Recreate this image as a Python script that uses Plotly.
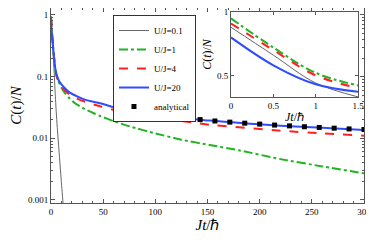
import plotly.graph_objects as go

# --- data ---
t_gray = [0, 0.5, 1, 1.5, 2, 3, 4, 5, 6, 8, 10, 12, 14]
c_gray = [0.88, 0.66, 0.44, 0.33, 0.24, 0.12, 0.055, 0.027, 0.015, 0.0053, 0.0019, 0.0007, 0.00025]

t_green = [0, 0.5, 1, 1.5, 2, 3, 4, 5, 7, 10, 13.4, 18, 23, 32, 42, 47, 60, 76, 100, 125, 152, 180, 220, 260, 300]
c_green = [0.95, 0.72, 0.52, 0.42, 0.31, 0.19, 0.13, 0.105, 0.085, 0.066, 0.054, 0.044, 0.037, 0.030, 0.025,
           0.023, 0.019, 0.0155, 0.012, 0.0095, 0.0078, 0.0064, 0.0046, 0.0035, 0.0027]

t_red = [0, 0.5, 1, 1.5, 2, 3, 4, 5, 6, 8, 10, 14, 18, 25, 33, 47, 60, 76, 100, 152, 220, 260, 300]
c_red = [0.91, 0.70, 0.50, 0.40, 0.31, 0.20, 0.14, 0.11, 0.095, 0.078, 0.070, 0.058, 0.051, 0.044, 0.039,
         0.033, 0.029, 0.0255, 0.022, 0.0166, 0.0133, 0.012, 0.011]

t_blue = [0, 0.5, 1, 1.5, 2, 3, 4, 5, 6, 8, 10, 14, 18, 25, 33, 47, 60, 76, 100, 152, 220, 260, 300]
c_blue = [0.80, 0.58, 0.43, 0.37, 0.30, 0.20, 0.14, 0.115, 0.10, 0.083, 0.075, 0.063, 0.055, 0.048, 0.042,
          0.037, 0.032, 0.027, 0.0242, 0.0194, 0.016, 0.0148, 0.0137]

t_ana = [100, 114.3, 128.6, 142.9, 157.1, 171.4, 185.7, 200, 214.3, 228.6, 242.9, 257.1, 271.4, 285.7, 300]
c_ana = [0.0240, 0.0225, 0.0212, 0.0201, 0.0191, 0.0183, 0.0176, 0.0170, 0.0164, 0.0159, 0.0154, 0.0150, 0.0146, 0.0142, 0.0139]

names = ["U/J=0.1", "U/J=1", "U/J=4", "U/J=20", "analytical"]
x_ticks = [0, 50, 100, 150, 200, 250, 300]
y_ticks = [1, 0.1, 0.01, 0.001]
y_tick_text = ["1", "0.1", "0.01", "0.001"]
inset_x_ticks = [0, 0.5, 1, 1.5]
inset_y_ticks = [0.5, 1]

GRAY = "#666666"
GREEN = "#22b322"
RED = "#ff2020"
BLUE = "#2f4cff"
FONT = "Liberation Serif"

fig = go.Figure()

series = [
    (t_gray, c_gray, GRAY, 1, "solid"),
    (t_green, c_green, GREEN, 2, "dashdot"),
    (t_red, c_red, RED, 2, "dash"),
    (t_blue, c_blue, BLUE, 2, "solid"),
]
for (tx, cy, col, w, dash), nm in zip(series, names[:4]):
    fig.add_trace(go.Scatter(x=tx, y=cy, mode="lines", name=nm,
                             line=dict(color=col, width=w, dash=dash, shape="spline", smoothing=0.6),
                             xaxis="x", yaxis="y"))
fig.add_trace(go.Scatter(x=t_ana, y=c_ana, mode="markers", name=names[4],
                         marker=dict(symbol="square", size=5, color="black"),
                         xaxis="x", yaxis="y"))

# inset
for (tx, cy, col, w, dash), nm in zip(series, names[:4]):
    xi = [a for a in tx if a <= 1.5]
    yi = [b for a, b in zip(tx, cy) if a <= 1.5]
    fig.add_trace(go.Scatter(x=xi, y=yi, mode="lines", showlegend=False,
                             line=dict(color=col, width=w, dash=dash, shape="spline"),
                             xaxis="x2", yaxis="y2"))

axis_common = dict(showline=True, linecolor="#555555", linewidth=1, mirror="allticks",
                   ticks="inside", tickcolor="#555555", showgrid=False, zeroline=False,
                   automargin=False, ticklabeloverflow="allow",
                   tickfont=dict(family=FONT, size=9, color="black"))

fig.update_layout(
    width=366, height=225,
    margin=dict(l=43, r=10, t=0, b=30),
    paper_bgcolor="white", plot_bgcolor="white",
    font=dict(family=FONT, color="black"),
    xaxis=dict(range=[0, 300], tickvals=x_ticks, ticklen=4,
               title=dict(text="<i>Jt</i>/ℏ", font=dict(family=FONT, size=15), standoff=4),
               minor=dict(ticks="inside", ticklen=2, tickcolor="#555555", dtick=10, showgrid=False),
               **axis_common),
    yaxis=dict(type="log", range=[-3.049, 0.113], tickvals=y_ticks, ticktext=y_tick_text, ticklen=4,
               title=dict(text="<i>C</i>(<i>t</i>)/<i>N</i>", font=dict(family=FONT, size=15), standoff=2),
               minor=dict(ticks="inside", ticklen=2, tickcolor="#555555", showgrid=False,
                          tickvals=[k * 10 ** e for e in range(-3, 1) for k in range(2, 10)]),
               **axis_common),
    xaxis2=dict(domain=[0.575, 0.981], anchor="y2", range=[0, 1.5], tickvals=inset_x_ticks,
                ticktext=["0", "0.5", "1", "1.5"], ticklen=3,
                title=dict(text="<i>Jt</i>/ℏ", font=dict(family=FONT, size=12), standoff=2),
                **axis_common),
    yaxis2=dict(domain=[0.544, 0.979], anchor="x2", range=[0.33, 1.0], tickvals=inset_y_ticks,
                ticklen=3,
                title=dict(text="<i>C</i>(<i>t</i>)/<i>N</i>", font=dict(family=FONT, size=12), standoff=2),
                **axis_common),
    legend=dict(x=0.198, y=0.964, xanchor="left", yanchor="top",
                bgcolor="white", bordercolor="#333333", borderwidth=1,
                font=dict(family=FONT, size=9), tracegroupgap=0, itemwidth=30),
    showlegend=True,
)

fig.write_html("out.html")
